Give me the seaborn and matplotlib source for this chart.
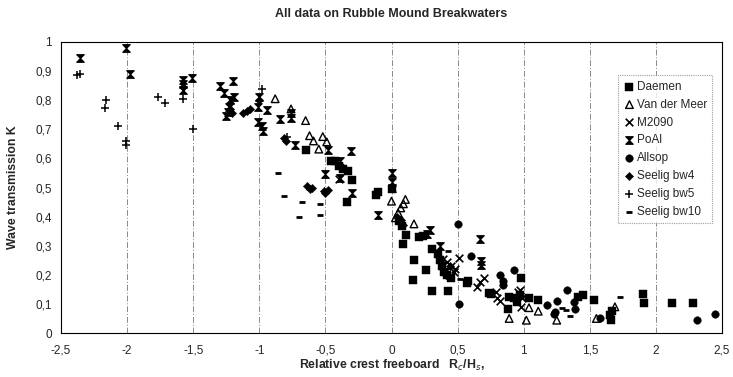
import numpy as np
import pandas as pd
import matplotlib
matplotlib.use("Agg")
import matplotlib.pyplot as plt
from matplotlib.path import Path
import seaborn as sns

# ---- data ----
daemen_x = [-0.65, -0.46, -0.43, -0.40, -0.37, -0.33, -0.30, -0.34, -0.12, -0.10, 0.0, 0.055, 0.08, 0.11,
            0.09, 0.21, 0.24, 0.17, 0.26, 0.16, 0.31, 0.43, 0.31, 0.35, 0.37, 0.38, 0.40, 0.42, 0.45,
            0.58, 0.57, 0.74, 0.75, 0.89, 0.88, 0.93, 0.95, 0.97, 0.98, 1.04, 1.11, 1.41, 1.45, 1.53,
            1.65, 1.66, 1.67, 1.90, 1.91, 2.12, 2.28]
daemen_y = [0.629, 0.59, 0.59, 0.575, 0.565, 0.555, 0.526, 0.45, 0.473, 0.486, 0.494, 0.384, 0.367, 0.338,
            0.306, 0.33, 0.335, 0.25, 0.217, 0.182, 0.144, 0.144, 0.29, 0.27, 0.25, 0.23, 0.21, 0.20, 0.188,
            0.18, 0.173, 0.138, 0.133, 0.124, 0.082, 0.12, 0.105, 0.13, 0.188, 0.119, 0.113, 0.124, 0.13, 0.113,
            0.061, 0.044, 0.075, 0.133, 0.104, 0.104, 0.104]

vdm_x = [-0.88, -0.76, -0.65, -0.62, -0.59, -0.52, -0.49, -0.55, 0.0, 0.105, 0.09, 0.07, 0.05, 0.03,
         0.17, 0.89, 1.04, 1.02, 1.11, 1.25, 1.55, 1.69]
vdm_y = [0.805, 0.77, 0.73, 0.678, 0.66, 0.675, 0.657, 0.632, 0.453, 0.459, 0.444, 0.43, 0.413, 0.396,
         0.375, 0.05, 0.087, 0.044, 0.075, 0.044, 0.05, 0.09]

m2090_x = [-0.40, 0.39, 0.42, 0.45, 0.47, 0.48, 0.51, 0.65, 0.67, 0.70, 0.79, 0.80, 0.82, 0.96, 0.98,
           0.99, 0.97]
m2090_y = [0.53, 0.255, 0.245, 0.23, 0.21, 0.22, 0.257, 0.159, 0.176, 0.188, 0.142, 0.121, 0.11, 0.14, 0.09,
           0.12, 0.148]

poal_x = [-2.36, -2.01, -1.98, -1.58, -1.58, -1.58, -1.51, -1.30, -1.27, -1.20, -1.19, -1.22, -1.23,
          -1.24, -1.25, -1.00, -1.01, -0.94, -1.01, -0.98, -0.97, -0.84, -0.76, -0.76, -0.73, -0.48,
          -0.31, -0.50, -0.39, -0.39, -0.30, -0.10, 0.0, 0.0, 0.0, 0.27, 0.29, 0.37, 0.67, 0.68, 0.68]
poal_y = [0.944, 0.978, 0.89, 0.87, 0.855, 0.835, 0.878, 0.85, 0.826, 0.866, 0.81, 0.80, 0.775,
          0.76, 0.745, 0.81, 0.776, 0.767, 0.724, 0.71, 0.693, 0.736, 0.755, 0.74, 0.647, 0.629,
          0.624, 0.546, 0.59, 0.532, 0.48, 0.405, 0.55, 0.52, 0.50, 0.34, 0.355, 0.30, 0.323, 0.246, 0.234]

allsop_x = [0.50, 0.60, 0.82, 0.84, 0.84, 0.93, 0.51, 1.18, 1.24, 1.25, 1.23, 1.33, 1.38, 1.39, 1.58,
            2.31, 2.45]
allsop_y = [0.376, 0.266, 0.20, 0.178, 0.165, 0.217, 0.10, 0.096, 0.073, 0.11, 0.067, 0.148, 0.107, 0.081,
            0.05, 0.044, 0.067]

bw4_x = [-1.58, -1.22, -1.22, -1.21, -1.12, -1.09, -1.07, -1.00, -0.80, -0.81, -0.64, -0.62, -0.60,
         -0.51, -0.50, -0.48, 0.04, 0.07, 0.09, 0.36, 0.39, 0.41, 0.44]
bw4_y = [0.845, 0.79, 0.77, 0.755, 0.755, 0.762, 0.77, 0.80, 0.66, 0.67, 0.505, 0.494, 0.50,
         0.488, 0.48, 0.49, 0.40, 0.39, 0.37, 0.26, 0.22, 0.20, 0.23]

bw5_x = [-2.36, -2.38, -2.16, -2.17, -2.07, -2.01, -2.01, -1.77, -1.71, -1.58, -1.50, -0.98, -0.79]
bw5_y = [0.89, 0.885, 0.80, 0.774, 0.71, 0.66, 0.645, 0.81, 0.79, 0.805, 0.70, 0.84, 0.675]

bw10_x = [-0.86, -0.81, -0.68, -0.70, -0.54, -0.54, 0.43, 0.52, 1.29, 1.32, 1.35, 1.73]
bw10_y = [0.55, 0.47, 0.45, 0.40, 0.444, 0.405, 0.283, 0.185, 0.085, 0.08, 0.06, 0.122]

x_ticks = [-2.5, -2, -1.5, -1, -0.5, 0, 0.5, 1, 1.5, 2, 2.5]
y_ticks = [0, 0.1, 0.2, 0.3, 0.4, 0.5, 0.6, 0.7, 0.8, 0.9, 1]

title = "All data on Rubble Mound Breakwaters"
xlabel = "Relative crest freeboard   R$_c$/H$_s$,"
ylabel = "Wave transmission K"

# ---- styling ----
sns.set_theme(style="white")
plt.rcParams['font.family'] = ['Liberation Sans', 'DejaVu Sans']

hourglass = Path([(-1, 1), (1, 1), (-1, -1), (1, -1), (-1, 1)],
                 [Path.MOVETO, Path.LINETO, Path.LINETO, Path.LINETO, Path.CLOSEPOLY])

series = [
    ("Daemen", daemen_x, daemen_y, dict(marker="s", s=30, color="black", edgecolor="black", linewidth=0.3)),
    ("Van der Meer", vdm_x, vdm_y, dict(marker="^", s=30, facecolor="none", edgecolor="black", linewidth=1.0)),
    ("M2090", m2090_x, m2090_y, dict(marker="x", s=30, color="black", linewidth=1.2)),
    ("PoAl", poal_x, poal_y, dict(marker=hourglass, s=30, color="black", edgecolor="black", linewidth=0.8)),
    ("Allsop", allsop_x, allsop_y, dict(marker="o", s=30, color="black", edgecolor="black", linewidth=0.3)),
    ("Seelig bw4", bw4_x, bw4_y, dict(marker="D", s=18, color="black", edgecolor="black", linewidth=0.3)),
    ("Seelig bw5", bw5_x, bw5_y, dict(marker="+", s=34, color="black", linewidth=1.1)),
    ("Seelig bw10", bw10_x, bw10_y, dict(marker="_", s=22, color="black", linewidth=2.0)),
]

fig = plt.figure(figsize=(7.33, 3.77), dpi=100)
ax = fig.add_axes([61 / 733, 1 - 333 / 377, 661 / 733, 291 / 377])

for name, xs, ys, kw in series:
    df = pd.DataFrame({"x": xs, "y": ys})
    sns.scatterplot(data=df, x="x", y="y", ax=ax, label=name, zorder=3, **kw)

ax.set_xlim(-2.5, 2.5)
ax.set_ylim(0, 1)
ax.set_xticks(x_ticks)
ax.set_yticks(y_ticks)
fmt = lambda v: ("%g" % v).replace(".", ",")
ax.set_xticklabels([fmt(v) for v in x_ticks], fontsize=8.5)
ax.set_yticklabels([fmt(v) for v in y_ticks], fontsize=8.5)
ax.tick_params(axis="x", length=0, pad=8.5)
ax.tick_params(axis="y", length=0, pad=6.5)

for v in x_ticks[1:-1]:
    ax.axvline(v, color="#8a8a8a", lw=0.7, ls=(0, (6, 2, 1, 2)), zorder=1)

for sp in ax.spines.values():
    sp.set_color("black")
    sp.set_linewidth(0.8)

ax.set_xlabel(xlabel, fontsize=8.8, fontweight="bold", labelpad=1)
ax.set_ylabel(ylabel, fontsize=8.8, fontweight="bold", labelpad=12)
fig.text(391 / 733, 1 - 14 / 377, title, ha="center", va="center", fontsize=9, fontweight="bold")

leg = ax.legend(loc="upper left", bbox_to_anchor=(0.843, 0.885), fontsize=8.5, frameon=True,
                fancybox=False, borderpad=0.45, labelspacing=0.5, handletextpad=0.1,
                handlelength=1.0, borderaxespad=0)
leg.get_frame().set_edgecolor("#888888")
leg.get_frame().set_linestyle((0, (1, 1)))
leg.get_frame().set_linewidth(0.8)

fig.savefig("out.png", dpi=100)
